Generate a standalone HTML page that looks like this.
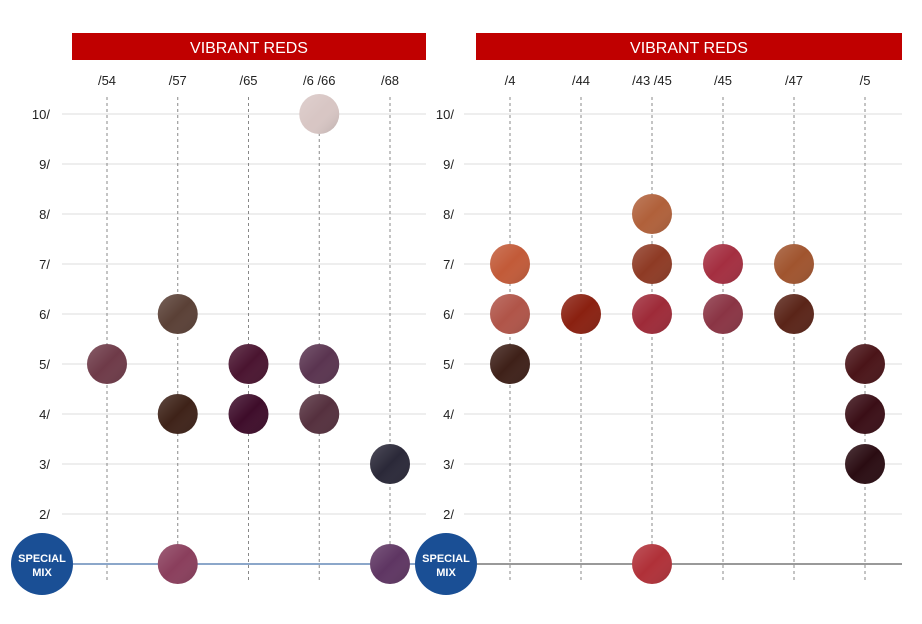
<!DOCTYPE html>
<html><head><meta charset="utf-8"><style>
body{margin:0;background:#fff;width:922px;height:624px;overflow:hidden;font-family:"Liberation Sans",sans-serif}
svg{display:block}
</style></head><body>
<svg id="chart" width="922" height="624"></svg>
<script>
const levels=["10/","9/","8/","7/","6/","5/","4/","3/","2/"];
const leftCats=["/54","/57","/65","/6 /66","/68"];
const rightCats=["/4","/44","/43 /45","/45","/47","/5"];
// swatches: [columnIndex, level (1 = special mix), color]
const leftSwatches=[[3,10,"#d8c6c4"],[1,6,"#5a4036"],[0,5,"#6e3a48"],[2,5,"#4a1430"],[3,5,"#5a3450"],[1,4,"#3e2218"],[2,4,"#3e0c2a"],[3,4,"#55303e"],[4,3,"#2a2838"],[1,1,"#8a3e5c"],[4,1,"#5e3562"]];
const rightSwatches=[[2,8,"#b0603a"],[0,7,"#c25a38"],[2,7,"#8e3a24"],[3,7,"#a42e40"],[4,7,"#a0542e"],[0,6,"#b05448"],[1,6,"#8a2010"],[2,6,"#9e2a38"],[3,6,"#8a3444"],[4,6,"#5a2418"],[0,5,"#3e2018"],[5,5,"#4a1418"],[5,4,"#3a0e16"],[5,3,"#2a0c12"],[2,1,"#b03038"]];
const NS="http://www.w3.org/2000/svg";
const svg=document.getElementById("chart");
function yOf(l){return 564-(l-1)*50;}
function mk(t,a){const e=document.createElementNS(NS,t);for(const k in a)e.setAttribute(k,a[k]);svg.appendChild(e);return e;}
function panel(p){
  const h=mk("rect",{x:p.hx,y:33,width:p.hw,height:27,fill:"#c00000"});
  
  
  const ht=mk("text",{x:p.hx+p.hw/2,y:53,"text-anchor":"middle","font-size":"16",fill:"#fff"});ht.textContent="VIBRANT REDS";
  
  
  levels.forEach(l=>{const v=parseInt(l),y=yOf(v);
    const g=mk("line",{x1:p.gx,x2:p.hx+p.hw,y1:y,y2:y,stroke:"#dcdcdc","stroke-width":1});
    
    
    const t=mk("text",{x:p.lx,y:y+5,"text-anchor":"end","font-size":"13",fill:"#222"});t.textContent=l;
    
    
  });
  const bl=mk("line",{x1:p.hx,x2:p.hx+p.hw,y1:564,y2:564,stroke:p.lineCol,"stroke-width":1});
  
  
  p.cats.forEach((c,i)=>{const x=p.cx0+i*p.dx;
    const d=mk("line",{x1:x,x2:x,y1:97,y2:580,stroke:"#888","stroke-dasharray":"3,3","stroke-width":1});
    
    
    const t=mk("text",{x:x,y:85,"text-anchor":"middle","font-size":"13",fill:"#222"});t.textContent=c;
    
    
  });
  p.sw.forEach(s=>{const x=p.cx0+s[0]*p.dx,y=yOf(s[1]);
    const c=mk("circle",{cx:x,cy:y,r:20,fill:s[2]});
    
    
    const sh=mk("circle",{cx:x,cy:y,r:20,fill:"url(#strands)"});
    
    
  });
  const sc=mk("circle",{cx:p.scx,cy:564,r:31,fill:"#1a4f95"});
  
  
  ["SPECIAL","MIX"].forEach((w,i)=>{const t=mk("text",{x:p.scx,y:564+i*14-2,"text-anchor":"middle","font-size":"11","font-weight":"bold",fill:"#fff"});t.textContent=w;
    
    });
}
const defs=mk("defs",{});
defs.innerHTML='<linearGradient id="strands" x1="0" y1="0" x2="1" y2="1"><stop offset="0" stop-color="#fff" stop-opacity="0.18"/><stop offset="0.5" stop-color="#fff" stop-opacity="0"/><stop offset="1" stop-color="#000" stop-opacity="0.15"/></linearGradient>';
panel({hx:72,hw:354,gx:62,lx:50,cats:leftCats,cx0:107,dx:70.75,sw:leftSwatches,scx:42,lineCol:"#1a4f95"});
panel({hx:476,hw:426,gx:464,lx:454,cats:rightCats,cx0:510,dx:71,sw:rightSwatches,scx:446,lineCol:"#333"});
</script>
</body></html>
